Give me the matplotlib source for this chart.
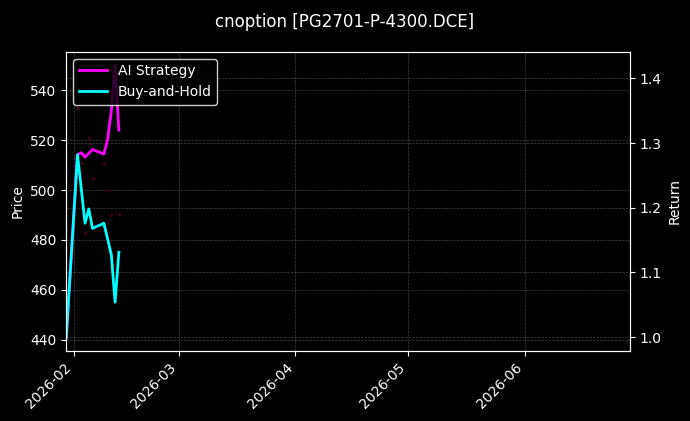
import numpy as np
import pandas as pd
import matplotlib
matplotlib.use('Agg')
import matplotlib.pyplot as plt
import matplotlib.dates as mdates

# Data
dates = pd.to_datetime(['2026-01-30', '2026-02-02', '2026-02-03', '2026-02-04', '2026-02-05',
                        '2026-02-06', '2026-02-09', '2026-02-10', '2026-02-11', '2026-02-12',
                        '2026-02-13'])
price = [441.0, 532.8, 510.7, 482.6, 520.7, 505.0, 510.7, 500.0, 489.8, 550.0, 490.5]
ai_return = [1.000, 1.282, 1.285, 1.278, 1.284, 1.290, 1.283, 1.305, 1.349, 1.420, 1.320]
bh_return = [1.000, 1.282, 1.229, 1.176, 1.198, 1.168, 1.176, 1.152, 1.127, 1.054, 1.131]
x_range = pd.to_datetime(['2026-01-30', '2026-06-29'])
title = 'cnoption [PG2701-P-4300.DCE]'

plt.style.use('dark_background')
fig = plt.figure(figsize=(6.9, 4.21), dpi=100)
ax = fig.add_axes([0.096, 0.167, 0.817, 0.710])

# Price on the left axis - only faint dots are visible in the original
ax.plot(dates, price, color='#5a0010', linestyle='none', marker='o', markersize=1.5, alpha=0.6)
ax.set_ylabel('Price')
ax.grid(True, linestyle='--', linewidth=0.5, color='gray', alpha=0.5)

ax2 = ax.twinx()
ax2.plot(dates, ai_return, color='#ff00ff', linewidth=2, label='AI Strategy')
ax2.plot(dates, bh_return, color='#00ffff', linewidth=2, label='Buy-and-Hold')
ax2.set_ylabel('Return')
ax2.grid(True, linestyle='--', linewidth=0.5, color='gray', alpha=0.5)

ax.set_xlim(x_range[0], x_range[1])
ax.xaxis.set_major_locator(mdates.MonthLocator())
ax.xaxis.set_major_formatter(mdates.DateFormatter('%Y-%m'))
plt.setp(ax.get_xticklabels(), rotation=45, ha='right')

ax2.legend(loc='upper left', facecolor='black', edgecolor='white', framealpha=0.8)
fig.suptitle(title, fontsize=12, y=0.97)

fig.savefig('out.png', dpi=100)
